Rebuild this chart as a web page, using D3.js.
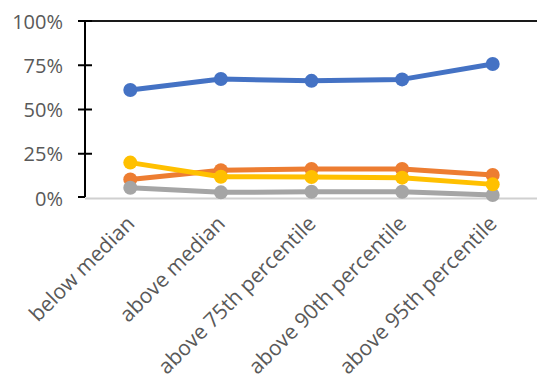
<!DOCTYPE html>
<html>
<head>
<meta charset="utf-8">
<script src="https://cdn.jsdelivr.net/npm/d3@7"></script>
<style>
  html, body { margin: 0; padding: 0; background: #fff; }
  svg { display: block; }
  text { font-family: "Open Sans", sans-serif; fill: #595959; }
</style>
</head>
<body>
<svg id="chart" width="537" height="383"></svg>
<script>
// Groups along the x axis
const categories = ["below median", "above median", "above 75th percentile", "above 90th percentile", "above 95th percentile"];
// Shares per group, one array per series (drawn in this order)
const seriesBlue   = [0.61, 0.672, 0.662, 0.67, 0.757];
const seriesOrange = [0.105, 0.157, 0.164, 0.164, 0.13];
const seriesGray   = [0.058, 0.032, 0.035, 0.035, 0.017];
const seriesYellow = [0.20, 0.12, 0.119, 0.115, 0.077];
const yTicks = [0, 0.25, 0.5, 0.75, 1];

const series = [
  { values: seriesBlue,   color: "#4472C4" },
  { values: seriesOrange, color: "#ED7D31" },
  { values: seriesGray,   color: "#A5A5A5" },
  { values: seriesYellow, color: "#FFC000" }
];

const svg = d3.select("#chart");
const plotLeft = 85, plotRight = 538, plotTop = 21, plotBottom = 198;

const x = d3.scalePoint().domain(categories).range([plotLeft, plotRight]).padding(0.5);
const y = d3.scaleLinear().domain([0, 1]).range([plotBottom, plotTop]);

// Light baseline at zero
svg.append("line")
  .attr("x1", plotLeft).attr("x2", 537)
  .attr("y1", y(0) + 0.5).attr("y2", y(0) + 0.5)
  .attr("stroke", "#D0D0D0").attr("stroke-width", 2);

// Dark top border at 100%
svg.append("line")
  .attr("x1", 78).attr("x2", 537)
  .attr("y1", y(1)).attr("y2", y(1))
  .attr("stroke", "#1a1a1a").attr("stroke-width", 2);

// Y axis labels
const yAxis = d3.axisLeft(y).tickValues(yTicks).tickFormat(d3.format(".0%")).tickSize(0).tickPadding(22);
const yg = svg.append("g").attr("transform", `translate(${plotLeft},0)`).call(yAxis);
yg.select(".domain").remove();
yg.selectAll("text").style("font-size", "20px").attr("fill", "#595959").attr("dy", "0.35em");

// Vertical axis line and crossing ticks
svg.append("line")
  .attr("x1", plotLeft).attr("x2", plotLeft)
  .attr("y1", plotTop).attr("y2", plotBottom - 1)
  .attr("stroke", "#000").attr("stroke-width", 2);
svg.selectAll(".ytick").data(yTicks).enter().append("line")
  .attr("class", "ytick")
  .attr("x1", 78).attr("x2", d => d === 0 ? plotLeft : 92)
  .attr("y1", d => y(d) - (d === 0 ? 1 : 0)).attr("y2", d => y(d) - (d === 0 ? 1 : 0))
  .attr("stroke", "#000").attr("stroke-width", 2);

// X axis labels, rotated
const xAxis = d3.axisBottom(x).tickSize(0).tickPadding(0);
const xg = svg.append("g").attr("transform", `translate(0,${plotBottom})`).call(xAxis);
xg.select(".domain").remove();
xg.selectAll("text")
  .style("font-size", "21px")
  .attr("fill", "#595959")
  .attr("text-anchor", "end")
  .attr("dy", null).attr("y", 0)
  .attr("transform", "translate(5,27) rotate(-45)");

// Series lines and markers
const line = d3.line().x((d, i) => x(categories[i])).y(d => y(d));
series.forEach(s => {
  const g = svg.append("g");
  g.append("path")
    .attr("d", line(s.values))
    .attr("fill", "none")
    .attr("stroke", s.color)
    .attr("stroke-width", 5)
    .attr("stroke-linejoin", "round");
  g.selectAll("circle").data(s.values).enter().append("circle")
    .attr("cx", (d, i) => x(categories[i]))
    .attr("cy", d => y(d))
    .attr("r", 7)
    .attr("fill", s.color);
});
</script>
</body>
</html>
